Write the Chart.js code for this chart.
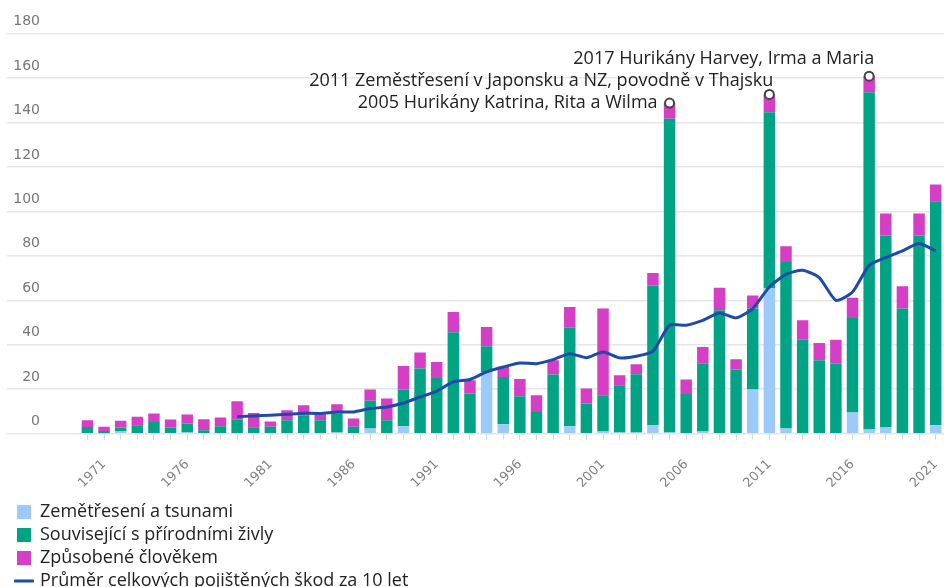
<!DOCTYPE html>
<html>
<head>
<meta charset="utf-8">
<script src="https://cdn.jsdelivr.net/npm/chart.js@4"></script>
<style>
  html, body { margin: 0; padding: 0; overflow: hidden; background: #fff; }
  canvas { display: block; }
</style>
</head>
<body>
<canvas id="lossChart" width="944" height="587"></canvas>
<script>
// years shown on the x axis
const years = [];
for (let y = 1970; y <= 2021; y++) years.push(String(y));

// insured losses
const quake = [0, 0.2, 1.0, 0, 0, 0, 0.5, 0, 0, 0,
  0, 0, 0, 0, 0, 0.5, 0, 2.3, 0, 3.4,
  0, 0, 0, 0, 27.8, 4.3, 0, 0, 0, 3.4,
  0, 1.0, 0.5, 0.5, 3.8, 0.5, 0, 1.0, 0, 0,
  19.9, 65.3, 2.3, 0, 0, 0, 9.5, 1.9, 2.8, 0,
  0, 3.8];
const weather = [3.0, 1.0, 1.8, 3.8, 5.3, 2.8, 4.1, 1.6, 3.4, 6.5,
  2.9, 3.1, 6.1, 8.3, 6.1, 8.6, 3.1, 12.5, 6.1, 16.5,
  29.3, 25.1, 45.6, 18.1, 11.5, 21.2, 16.9, 9.8, 26.6, 44.3,
  13.6, 16.3, 21.3, 26.2, 62.9, 141.2, 17.9, 30.5, 55.5, 28.9,
  36.4, 79.3, 74.9, 42.3, 33.0, 31.5, 42.5, 151.7, 86.4, 56.3,
  89.2, 100.8];
const manMade = [3.0, 1.9, 3.0, 3.8, 3.8, 3.6, 4.0, 4.9, 3.9, 8.1,
  6.4, 2.4, 4.5, 4.5, 2.7, 4.2, 3.7, 5.1, 9.7, 10.6,
  7.2, 7.2, 9.1, 5.9, 8.7, 4.5, 7.7, 7.5, 6.4, 9.3,
  6.7, 39.0, 4.5, 4.5, 5.6, 7.0, 6.5, 7.5, 10.2, 4.6,
  5.9, 8.0, 7.1, 8.7, 7.8, 10.8, 9.2, 7.2, 9.8, 10.0,
  9.8, 7.5];
const tenYearAvg = [null, null, null, null, null, null, null, null, null, 7.6,
  8.0, 8.3, 8.7, 9.2, 9.1, 9.8, 9.8, 11.3, 12.0, 13.8,
  16.5, 19.2, 23.3, 24.4, 27.8, 30.0, 31.8, 31.5, 33.3, 36.0,
  34.2, 36.8, 34.1, 34.8, 37.1, 48.8, 48.8, 51.0, 54.3, 52.1,
  56.3, 66.0, 71.7, 73.5, 70.2, 60.0, 63.7, 75.7, 79.2, 82.2,
  85.5, 82.2];

const yTicks = [0, 20, 40, 60, 80, 100, 120, 140, 160, 180];

const noteYears = ['2005', '2011', '2017'];
const noteTexts = [
  '2005 Hurikány Katrina, Rita a Wilma',
  '2011 Zeměstřesení v Japonsku a NZ, povodně v Thajsku',
  '2017 Hurikány Harvey, Irma a Maria'
];

const labelNames = [
  'Zemětřesení a tsunami',
  'Související s přírodními živly',
  'Způsobené člověkem',
  'Průměr celkových pojištěných škod za 10 let'
];

// circle markers sit on top of the stacked bar for the noted years
const markers = years.map((y, i) =>
  noteYears.includes(y) ? quake[i] + weather[i] + manMade[i] : null);

const notePlugin = {
  id: 'notes',
  afterDatasetsDraw(chart) {
    const meta = chart.getDatasetMeta(4);
    const ctx = chart.ctx;
    const shift = [[-12, 0], [4, -14], [5, -17]];
    ctx.save();
    ctx.font = '18px "Open Sans"';
    ctx.fillStyle = '#222';
    ctx.textAlign = 'right';
    ctx.textBaseline = 'middle';
    noteYears.forEach((y, k) => {
      const pt = meta.data[years.indexOf(y)];
      ctx.fillText(noteTexts[k], pt.x + shift[k][0], pt.y + shift[k][1]);
    });
    ctx.restore();
  }
};

// legend items one per row, like the original list
const stackLegend = {
  id: 'stackLegend',
  beforeLayout(chart) {
    const lg = chart.legend;
    if (!lg || lg._stacked) return;
    lg._stacked = true;
    const fit = lg.fit, draw = lg.draw;
    lg.fit = function () {
      const w = this.maxWidth;
      this.maxWidth = 420;
      fit.call(this);
      this.maxWidth = w;
      this.width = w;
    };
    lg.draw = function () {
      const r = this.right;
      this.right = this.left + 420;
      draw.call(this);
      this.right = r;
    };
  }
};

const ctx = document.getElementById('lossChart').getContext('2d');
new Chart(ctx, {
  data: {
    labels: years,
    datasets: [
      { type: 'bar', label: labelNames[0], data: quake, backgroundColor: '#9ccbfb', stack: 'loss', order: 2, pointStyle: 'rect' },
      { type: 'bar', label: labelNames[1], data: weather, backgroundColor: '#00a384', stack: 'loss', order: 2, pointStyle: 'rect' },
      { type: 'bar', label: labelNames[2], data: manMade, backgroundColor: '#d43fc6', stack: 'loss', order: 2, pointStyle: 'rect' },
      { type: 'line', label: labelNames[3], data: tenYearAvg, borderColor: '#1f4aa8', backgroundColor: '#1f4aa8',
        borderWidth: 3, pointRadius: 0, tension: 0.2, stack: 'avg', order: 1, pointStyle: 'line' },
      { type: 'line', label: 'notes', data: markers, showLine: false, pointRadius: 4.5,
        pointBackgroundColor: '#fff', pointBorderColor: '#444', pointBorderWidth: 2, stack: 'mark', order: 0 }
    ]
  },
  options: {
    responsive: false,
    animation: false,
    // last bar runs a few px past the right edge and the legend is cut at the bottom, as in the original
    layout: { autoPadding: false, padding: { left: 12, right: -5, top: 33.5, bottom: -13 } },
    datasets: { bar: { barPercentage: 0.69, categoryPercentage: 1 } },
    plugins: {
      tooltip: { enabled: false },
      legend: {
        position: 'bottom',
        align: 'start',
        labels: {
          usePointStyle: true,
          boxWidth: 14,
          boxHeight: 14,
          padding: 5,
          color: '#222',
          font: { family: 'Open Sans', size: 18 },
          filter: item => item.datasetIndex < 4,
          sort: (a, b) => a.datasetIndex - b.datasetIndex
        }
      }
    },
    scales: {
      x: {
        stacked: true,
        border: { display: false },
        afterFit: scale => {
          scale.height = 64.3;
          scale.paddingLeft = 0;
          scale.paddingRight = 0;
        },
        grid: { drawOnChartArea: false, drawTicks: true, tickLength: 6, tickColor: '#d8d8d8', offset: false },
        ticks: {
          autoSkip: false,
          minRotation: 45,
          maxRotation: 45,
          padding: 17,
          color: '#808080',
          font: { family: 'DejaVu Sans', size: 13 },
          callback: (v, i) => (Number(years[i]) - 1971) % 5 === 0 ? years[i] : ''
        }
      },
      y: {
        stacked: true,
        min: 0,
        max: 180,
        border: { display: false },
        afterFit: scale => { scale.width = 67.1; },
        afterBuildTicks: scale => { scale.ticks = yTicks.map(v => ({ value: v })); },
        grid: { color: '#e6e6e6', lineWidth: 1.5, tickLength: 72.1 },
        ticks: { padding: -33, labelOffset: -12, color: '#777', font: { family: 'DejaVu Sans', size: 14 } }
      }
    }
  },
  plugins: [notePlugin, stackLegend]
});
</script>
</body>
</html>
